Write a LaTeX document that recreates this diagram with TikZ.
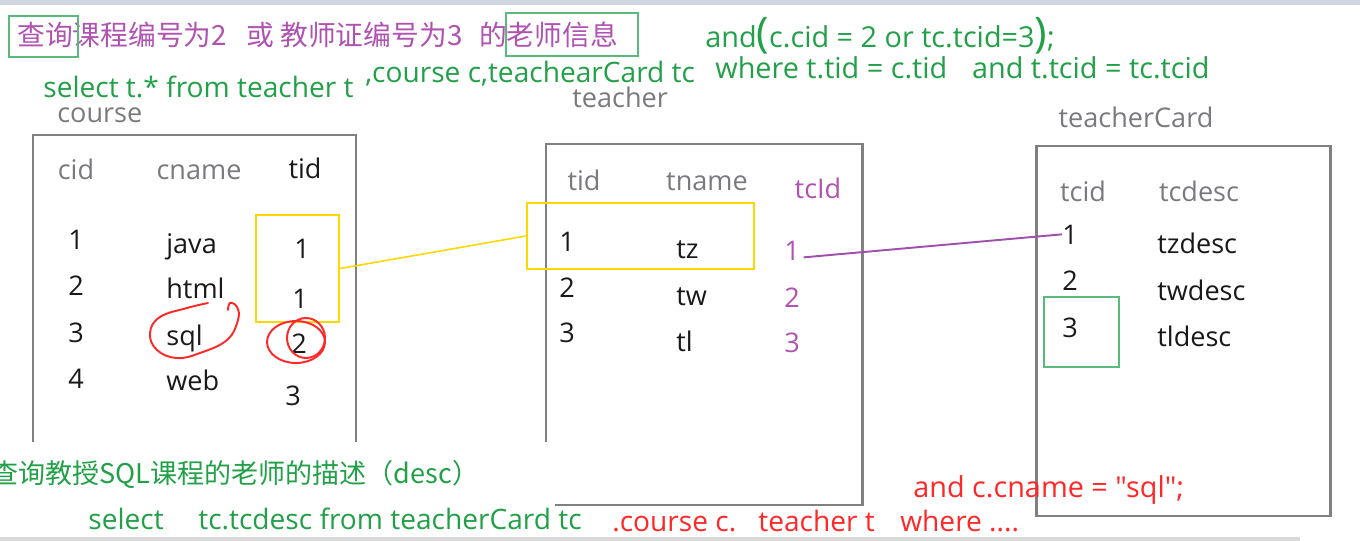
\documentclass[tikz,border=0pt]{standalone}
\usepackage{fontspec}
\setmainfont{Open Sans}
\newfontfamily\cjkfont{Noto Sans CJK SC}
\newfontfamily\codefont{Open Sans}
\usetikzlibrary{positioning}
\newcommand\txtsize{\fontsize{15.4}{18}\selectfont}
\newcommand\sqlsize{\fontsize{16}{19}\selectfont}
\newcommand\wideqsize{\fontsize{16.4}{19}\selectfont}
\newcommand\bigparen{\fontsize{24}{24}\selectfont}
\definecolor{titlepurple}{RGB}{176,82,178}
\definecolor{linkpurple}{RGB}{160,80,172}
\definecolor{sqlgreen}{RGB}{34,160,72}
\definecolor{markgreen}{RGB}{90,186,124}
\definecolor{hdrgrey}{RGB}{122,122,126}
\definecolor{boxgrey}{RGB}{128,128,128}
\definecolor{hlyellow}{RGB}{255,216,0}
\definecolor{markred}{RGB}{255,40,40}
\definecolor{bargrey}{RGB}{208,214,224}

\begin{document}
\begin{tikzpicture}[x=0.02cm,y=-0.02cm,
txt/.style={inner sep=0pt,font=\txtsize,anchor=base,text=black!90},
lefttxt/.style={txt,anchor=base west},
hdr/.style={txt,text=hdrgrey},
sqltxt/.style={lefttxt,font=\sqlsize,text=sqlgreen},
redtxt/.style={lefttxt,font=\sqlsize,text=markred},
tablebox/.style={draw=boxgrey,line width=1.7pt},
yelbox/.style={draw=hlyellow,line width=1.4pt,inner sep=0pt},
markbox/.style={draw=markgreen,line width=0.6pt},
redmark/.style={draw=markred,line width=1.1pt,line cap=round}]
\useasboundingbox (0,0) rectangle (1360,541);
\fill[bargrey] (0,0) rectangle (1360,5);
\fill[black!15] (0,537) rectangle (1300,541);

\node (question) [lefttxt,font=\cjkfont\fontsize{15.8}{18}\selectfont,text=titlepurple] at (17,45)
    {查询课程编号为2\hspace{0.7em}或 教师证编号为3\hspace{0.6em}的老师信息};
\draw[markbox] (9,16) rectangle (78,57);
\draw[markbox] (506,13) rectangle (638,56);

\node (selectall) [sqltxt] at (43,97) {select t.* from teacher t};
\node (fromlist) [sqltxt] at (365,82) {,course c,teachearCard tc};
\node (andcond) [sqltxt,font=\wideqsize] at (705,48) {and{\bigparen(}c.cid = 2 or tc.tcid=3{\bigparen)};};
\node (wherecond) [sqltxt,font=\wideqsize] at (715,78) {where t.tid = c.tid\hspace{0.6em} and t.tcid = tc.tcid};

\node (coursettl) [hdr,anchor=base west] at (57,122) {course};
\draw[tablebox] (33,442) |- (356,135) -- (356,442);
\node (ccid) [hdr] at (76,179) {cid};
\node (ccname) [hdr] at (199,179) {cname};
\node (ctid) [txt] at (305,178) {tid};
\node (cid1) [txt] at (76,249) {1};
\node (cid2) [txt] at (76,295) {2};
\node (cid3) [txt] at (76,342) {3};
\node (cid4) [txt] at (76,388) {4};
\node (cname1) [lefttxt] at (166,253) {java};
\node (cname2) [lefttxt] at (166,298) {html};
\node (cname3) [lefttxt] at (166,345) {sql};
\node (cname4) [lefttxt] at (166,390) {web};
\node (ctid1) [txt] at (302,258) {1};
\node (ctid2) [txt] at (300,308) {1};
\node (ctid3) [txt] at (299,353) {2};
\node (ctid4) [txt] at (293,405) {3};
\node (tidbox) [yelbox,minimum width=1.66cm,minimum height=2.14cm] at (297.5,268.5) {};

\node (teacherttl) [hdr,anchor=base west] at (572,107) {teacher};
\draw[tablebox] (546,442) |- (862,144) |- (555,505);
\node (ttid) [hdr] at (584,190) {tid};
\node (ttname) [hdr] at (707,190) {tname};
\node (ttcid) [txt,text=titlepurple] at (818,198) {tcId};
\node (tid1) [txt] at (567,251) {1};
\node (tid2) [txt] at (567,297) {2};
\node (tid3) [txt] at (567,342) {3};
\node (tname1) [lefttxt] at (676,258) {tz};
\node (tname2) [lefttxt] at (676,305) {tw};
\node (tname3) [lefttxt] at (676,351) {tl};
\node (tcone) [txt,text=titlepurple] at (792,260) {1};
\node (tctwo) [txt,text=titlepurple] at (792,307) {2};
\node (tcthree) [txt,text=titlepurple] at (792,352) {3};
\node (tidrow) [yelbox,minimum width=4.54cm,minimum height=1.32cm] at (640.5,236) {};

\node (cardttl) [hdr] at (1136,127) {teacherCard};
\draw[tablebox] (1036,146) rectangle (1330,516);
\node (ktcid) [hdr] at (1083,201) {tcid};
\node (ktcdesc) [hdr] at (1199,201) {tcdesc};
\node (cardone) [txt] at (1070,244) {1};
\node (cardtwo) [txt] at (1070,290) {2};
\node (cardthree) [txt] at (1070,337) {3};
\node (desc1) [lefttxt] at (1157,253) {tzdesc};
\node (desc2) [lefttxt] at (1157,300) {twdesc};
\node (desc3) [lefttxt] at (1157,346) {tldesc};
\draw[markbox] (1044,297) rectangle (1119,367);

\draw[hlyellow,line width=0.9pt] (tidbox.east) -- (tidrow.west);
\draw[linkpurple,line width=1.1pt] ([xshift=2pt,yshift=1.5pt]tcone.base east) -- (cardone.west);

\draw[redmark] plot[smooth,tension=0.7] coordinates {(208,303) (187,308) (160,317) (150,333) (157,350) (177,358) (200,353) (227,340) (238,320) (237,307) (230,303) (228,310)};
\draw[redmark] (296,342) ellipse [x radius=29,y radius=21];
\draw[redmark] (306,338) ellipse [x radius=19,y radius=20];

\node (question2) [sqltxt,font=\cjkfont\fontsize{15.4}{18}\selectfont] at (-9,483) {查询教授SQL课程的老师的描述（desc）};
\node (select2) [sqltxt] at (88,529) {select};
\node (from2) [sqltxt] at (198,529) {tc.tcdesc from teacherCard tc};
\node (join2) [redtxt] at (612,531) {.course c.};
\node (join3) [redtxt] at (758,531) {teacher t};
\node (where2) [redtxt] at (900,531) {where ....};
\node (andname) [redtxt,font=\codefont\wideqsize] at (913,497) {and c.cname = "sql";};
\end{tikzpicture}
\end{document}
